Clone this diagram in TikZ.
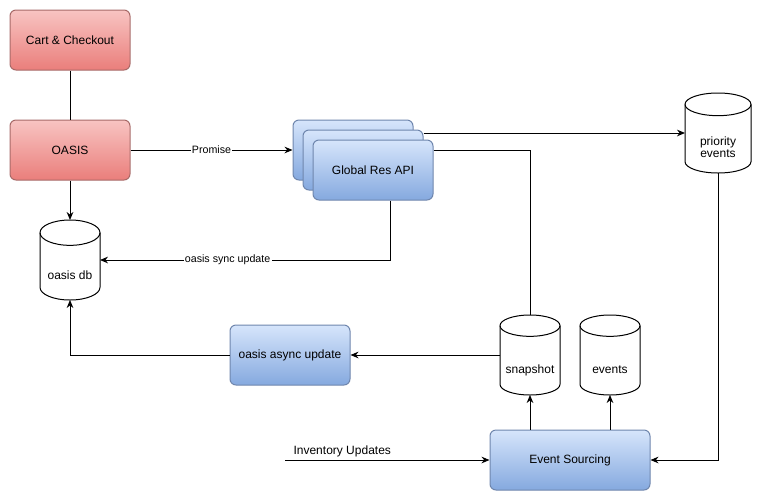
\documentclass[tikz,border=0pt]{standalone}
\usepackage{fontspec}
\setmainfont{Liberation Sans}
\usetikzlibrary{arrows.meta,calc}
\definecolor{redtop}{HTML}{F8C4C2}
\definecolor{redbot}{HTML}{EA7E7B}
\definecolor{redline}{HTML}{A86A68}
\definecolor{bluetop}{HTML}{D6E5FB}
\definecolor{bluebot}{HTML}{85A9DF}
\definecolor{blueline}{HTML}{6F86AD}
\newcommand{\cylshape}[3]{%
  \draw[line width=0.75pt, fill=white] ([yshift=-#3]#1.north west) -- ([yshift=#3]#1.south west)
    arc[start angle=180,end angle=360,x radius=#2,y radius=#3] -- ([yshift=-#3]#1.north east)
    arc[start angle=0,end angle=180,x radius=#2,y radius=#3] -- cycle;
  \draw[line width=0.75pt] ([yshift=-#3]#1.north west) arc[start angle=180,end angle=360,x radius=#2,y radius=#3];
}
\tikzset{
  box/.style={rounded corners=4.5pt, line width=0.75pt, minimum width=90pt, minimum height=45pt,
    inner sep=0pt, font=\fontsize{9}{11}\selectfont},
  redbox/.style={box, draw=redline, top color=redtop, bottom color=redbot},
  bluebox/.style={box, draw=blueline, top color=bluetop, bottom color=bluebot},
  cylnode/.style={inner sep=0pt, outer sep=0pt, minimum width=45pt, minimum height=60pt},
  cyltext/.style={font=\fontsize{9}{11}\selectfont, align=center},
  arr/.style={line width=0.75pt, -{Stealth[length=6pt,width=5pt]}},
  ln/.style={line width=0.75pt},
  lbl/.style={fill=white, inner sep=1pt, font=\fontsize{8}{10}\selectfont},
}
\begin{document}
\begin{tikzpicture}[x=0.75pt,y=-0.75pt]
\useasboundingbox (0,0) rectangle (758,501);
% boxes
\node[redbox] (cart) at (70,40) {Cart \& Checkout};
\node[redbox] (oasis) at (70,150) {OASIS};
\node[bluebox] (gr1) at (353,150) {};
\node[bluebox] (gr2) at (363,160) {};
\node[bluebox] (gr3) at (373,170) {Global Res API};
\node[bluebox] (async) at (290,355) {oasis async update};
\node[bluebox, minimum width=120pt] (es) at (570,460) {Event Sourcing};
% cylinders
\node[cylnode] (db) at (70,260) {};
\cylshape{db}{22.5pt}{9.5pt}
\node[cyltext] at ([yshift=-11.25pt]db.center) {oasis db};
\node[cylnode] (snap) at (530,355) {};
\cylshape{snap}{22.5pt}{8pt}
\node[cyltext] at ([yshift=-11.25pt]snap.center) {snapshot};
\node[cylnode] (events) at (610,355) {};
\cylshape{events}{22.5pt}{8pt}
\node[cyltext] at ([yshift=-11.25pt]events.center) {events};
\node[cylnode, minimum width=49.5pt] (prio) at (718,133) {};
\cylshape{prio}{24.75pt}{8.5pt}
\node[cyltext] at ([yshift=-10.5pt]prio.center) {priority\\[-2pt]events};
% connectors
\draw[ln] (cart) -- (oasis);
\draw[arr] (oasis) -- (db);
\draw[arr] (oasis.east) -- node[lbl]{Promise} (gr1.west);
\draw[arr] ($(gr3.south)+(17,0)$) |- node[pos=0.78, lbl]{oasis sync update} (db.east);
\draw[arr] (gr2.east |- prio.west) -- (prio.west);
\draw[ln] (gr3.east |- gr1.east) -| (snap.north);
\draw[arr] (snap.west) -- (async.east);
\draw[arr] (async.west) -| (db.south);
\draw[arr] (snap.south |- es.north) -- (snap.south);
\draw[arr] (events.south |- es.north) -- (events.south);
\draw[arr] (prio.south) |- (es.east);
\coordinate (inv) at (285,460);
\draw[arr] (inv) -- node[pos=0.28, above, inner sep=2pt, font=\fontsize{9}{11}\selectfont]{Inventory Updates} (es.west);
\end{tikzpicture}
\end{document}
